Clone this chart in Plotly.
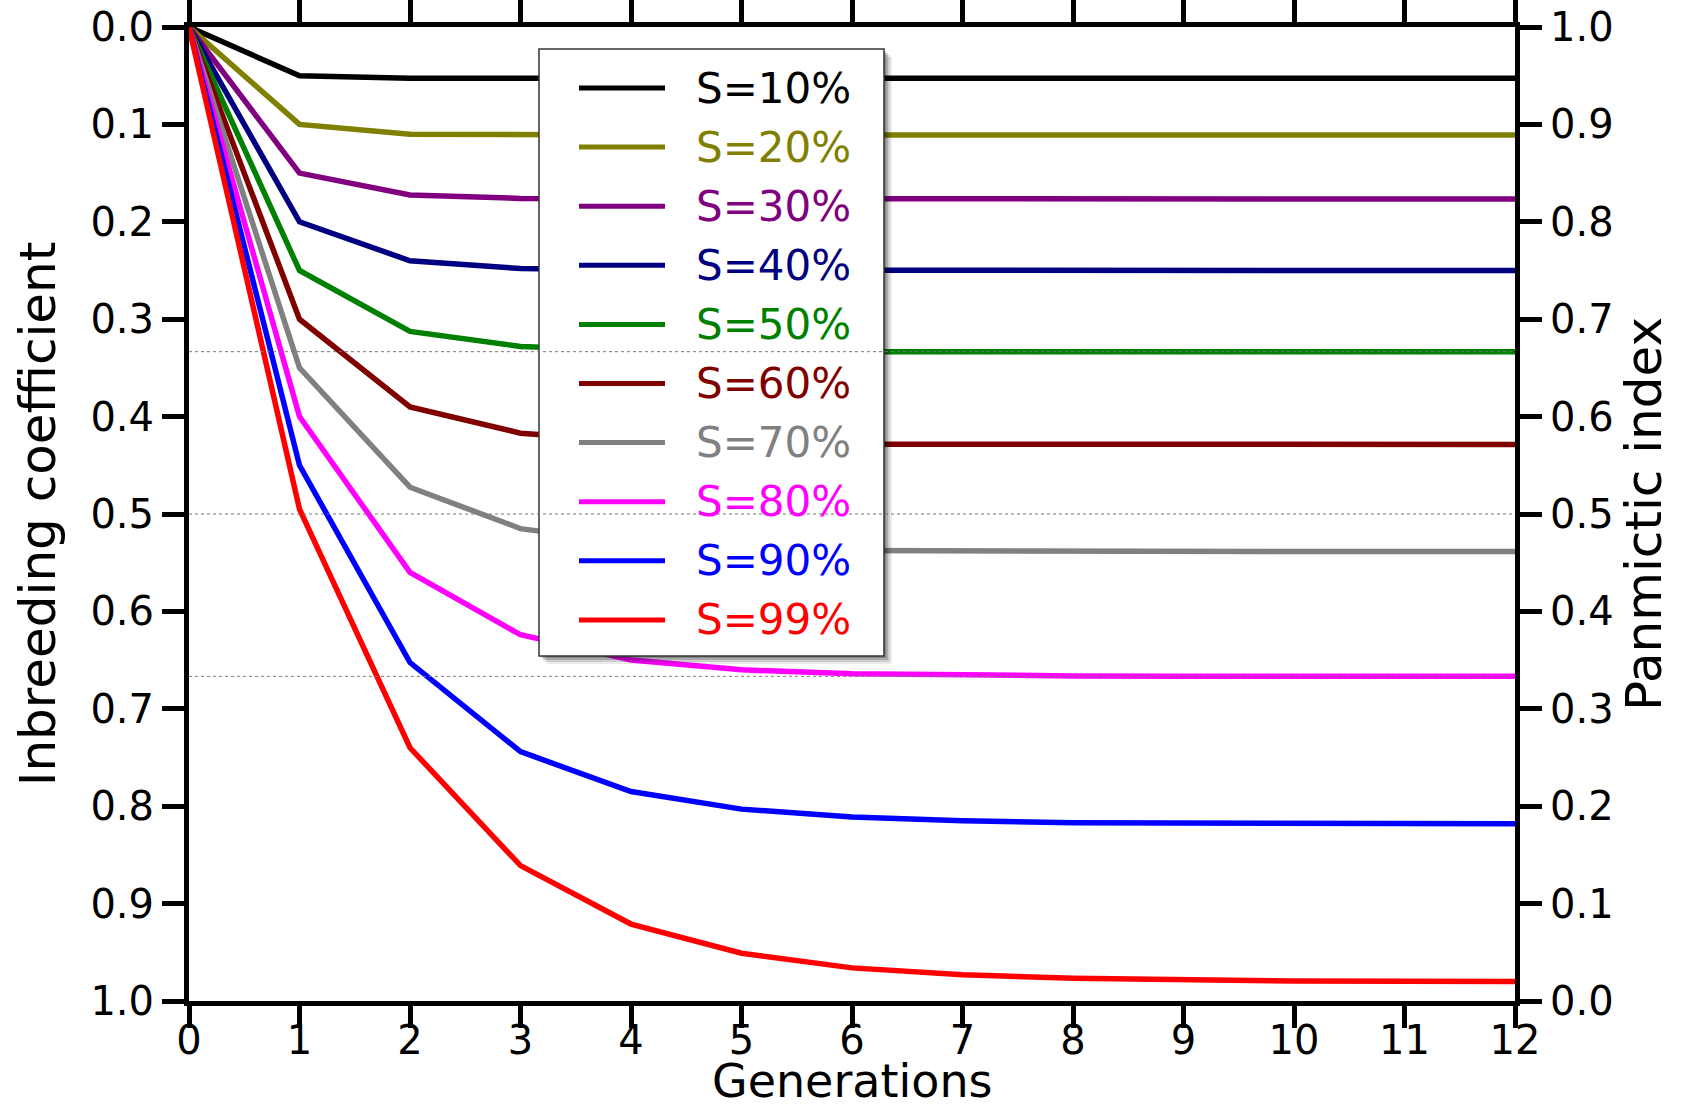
import plotly.graph_objects as go

generations = list(range(13))
selfing_labels = ["S=10%", "S=20%", "S=30%", "S=40%", "S=50%",
                  "S=60%", "S=70%", "S=80%", "S=90%", "S=99%"]
colors = ["#000000", "#808000", "#800080", "#000080", "#008000",
          "#800000", "#808080", "#ff00ff", "#0000ff", "#ff0000"]

f_s10 = [0, 0.05, 0.0525, 0.0526, 0.0526, 0.0526, 0.0526, 0.0526, 0.0526, 0.0526, 0.0526, 0.0526, 0.0526]
f_s20 = [0, 0.10, 0.110, 0.111, 0.111, 0.111, 0.111, 0.111, 0.111, 0.111, 0.111, 0.111, 0.111]
f_s30 = [0, 0.15, 0.1725, 0.176, 0.1764, 0.1765, 0.1765, 0.1765, 0.1765, 0.1765, 0.1765, 0.1765, 0.1765]
f_s40 = [0, 0.20, 0.240, 0.248, 0.2496, 0.2499, 0.25, 0.25, 0.25, 0.25, 0.25, 0.25, 0.25]
f_s50 = [0, 0.25, 0.3125, 0.328, 0.332, 0.333, 0.3333, 0.3333, 0.3333, 0.3333, 0.3333, 0.3333, 0.3333]
f_s60 = [0, 0.30, 0.390, 0.417, 0.425, 0.4275, 0.4283, 0.4285, 0.4286, 0.4286, 0.4286, 0.4286, 0.4286]
f_s70 = [0, 0.35, 0.4725, 0.515, 0.530, 0.5356, 0.5375, 0.5381, 0.5383, 0.5384, 0.5385, 0.5385, 0.5385]
f_s80 = [0, 0.40, 0.560, 0.624, 0.650, 0.660, 0.664, 0.6656, 0.6662, 0.6665, 0.6666, 0.6666, 0.6667]
f_s90 = [0, 0.45, 0.6525, 0.744, 0.785, 0.803, 0.811, 0.815, 0.817, 0.8176, 0.8179, 0.8181, 0.8181]
f_s99 = [0, 0.495, 0.740, 0.861, 0.921, 0.951, 0.966, 0.973, 0.9767, 0.9785, 0.9794, 0.9798, 0.980]
series = [f_s10, f_s20, f_s30, f_s40, f_s50, f_s60, f_s70, f_s80, f_s90, f_s99]

reference_levels = [1 / 3, 0.5, 2 / 3]
y_ticks = [0.0, 0.1, 0.2, 0.3, 0.4, 0.5, 0.6, 0.7, 0.8, 0.9, 1.0]

FONT = "DejaVu Sans"

# plot-area geometry in pixels (for legend placement)
L, R, T, B = 189, 1515, 27, 1001
W, H = R - L, B - T


def px(x):
    return (x - L) / W


def py(y):
    return (B - y) / H


fig = go.Figure()
for vals, name, col in zip(series, selfing_labels, colors):
    fig.add_trace(go.Scatter(x=generations, y=vals, mode="lines", name=name,
                             line=dict(color=col, width=5.5), showlegend=False))

shapes = []
# legend shadow + box
box = dict(x0=539, x1=884, y0=49, y1=656)
for off, op in [(8, 0.08), (6, 0.12), (4, 0.18), (2, 0.2)]:
    shapes.append(dict(type="rect", xref="paper", yref="paper", layer="above",
                       x0=px(box["x0"] + off), x1=px(box["x1"] + off),
                       y0=py(box["y0"] + off), y1=py(box["y1"] + off),
                       line=dict(width=0), fillcolor=f"rgba(0,0,0,{op})"))
shapes.append(dict(type="rect", xref="paper", yref="paper", layer="above",
                   x0=px(box["x0"]), x1=px(box["x1"]),
                   y0=py(box["y0"]), y1=py(box["y1"]),
                   line=dict(color="#333333", width=1.5), fillcolor="white"))
# dotted reference lines
for lev in reference_levels:
    shapes.append(dict(type="line", xref="x", yref="y", layer="above",
                       x0=generations[0], x1=generations[-1], y0=lev, y1=lev,
                       line=dict(color="#777777", width=1, dash="dot")))

annotations = []
row0, dy = 88, 59.1
for i, (name, col) in enumerate(zip(selfing_labels, colors)):
    yy = row0 + i * dy
    shapes.append(dict(type="line", xref="paper", yref="paper", layer="above",
                       x0=px(579), x1=px(665), y0=py(yy), y1=py(yy),
                       line=dict(color=col, width=5)))
    annotations.append(dict(xref="paper", yref="paper", x=px(694), y=py(yy),
                            xanchor="left", yanchor="middle", showarrow=False,
                            text=name, font=dict(family=FONT, size=42, color=col)))

# x-axis title as an annotation at the bottom edge
annotations.append(dict(xref="paper", yref="paper", x=0.5, y=py(1109), yanchor="bottom",
                        xanchor="center", showarrow=False, borderpad=0,
                        text="Generations", font=dict(family=FONT, size=46, color="black")))

# invisible trace to anchor the right axis
fig.add_trace(go.Scatter(x=[generations[0]], y=[None], yaxis="y2",
                         showlegend=False, hoverinfo="skip"))

axis_common = dict(showgrid=False, zeroline=False, showline=True, linecolor="black",
                   linewidth=5, ticks="outside", ticklen=22, tickwidth=5, automargin=False,
                   tickcolor="black", tickfont=dict(family=FONT, size=40, color="black"))

fig.update_layout(
    width=1691, height=1109,
    margin=dict(l=L, r=1691 - R, t=T, b=1109 - B),
    paper_bgcolor="white", plot_bgcolor="white",
    showlegend=False,
    xaxis=dict(range=[0, 12], tickvals=generations, mirror="ticks", ticklabelstandoff=-22,
               **axis_common),
    yaxis=dict(range=[1, 0], tickvals=y_ticks, tickformat=".1f",
               title=dict(text="Inbreeding coefficient", font=dict(family=FONT, size=50, color="black"),
                          standoff=20),
               **axis_common),
    yaxis2=dict(range=[0, 1], tickvals=y_ticks, tickformat=".1f", overlaying="y", side="right",
                title=dict(text="Panmictic index", font=dict(family=FONT, size=50, color="black"),
                           standoff=15),
                **axis_common),
    shapes=shapes,
    annotations=annotations,
)

fig.write_html("out.html")
